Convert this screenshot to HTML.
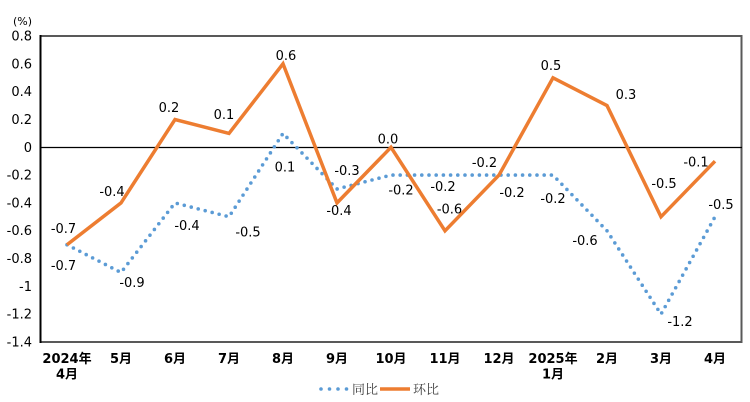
<!DOCTYPE html>
<html><head><meta charset="utf-8"><style>
html,body{margin:0;padding:0;background:#fff;}
svg{display:block;}
.t{font-family:"DejaVu Sans","Liberation Sans",sans-serif;font-size:13px;fill:#000;}
.x{font-family:"DejaVu Sans","Noto Sans CJK SC",sans-serif;font-size:13px;font-weight:bold;fill:#000;}
.lg{font-family:"Noto Serif CJK SC","Noto Sans CJK SC",serif;font-size:13px;fill:#404040;}
</style></head><body>
<svg width="750" height="402" viewBox="0 0 750 402" xmlns="http://www.w3.org/2000/svg">
<text x="13" y="25" style="font-family:'DejaVu Sans',sans-serif;font-size:11px;fill:#000;">(%)</text>
<!-- y tick labels -->
<g class="t" text-anchor="end">
<text x="32" y="40.5">0.8</text>
<text x="32" y="68.3">0.6</text>
<text x="32" y="96.1">0.4</text>
<text x="32" y="124">0.2</text>
<text x="32" y="151.8">0</text>
<text x="32" y="179.6">-0.2</text>
<text x="32" y="207.4">-0.4</text>
<text x="32" y="235.2">-0.6</text>
<text x="32" y="263">-0.8</text>
<text x="32" y="290.9">-1</text>
<text x="32" y="318.7">-1.2</text>
<text x="32" y="346.5">-1.4</text>
</g>
<!-- plot border -->
<rect x="40.5" y="36" width="701" height="306" fill="none" stroke="#595959" stroke-width="2"/>
<line x1="40.5" y1="35" x2="40.5" y2="343" stroke="#000" stroke-width="2"/>
<line x1="40" y1="147.5" x2="742" y2="147.5" stroke="#000" stroke-width="1.2"/>
<!-- 同比 -->
<polyline fill="none" stroke="#5B9BD5" stroke-width="3.6" stroke-linecap="round" stroke-dasharray="0 7.2"
points="67,244.7 121,272.5 175,202.9 229,216.8 283,133.4 337,189 391,175.1 445,175.1 499,175.1 553,175.1 607,230.8 661,314.2 715,216.8"/>
<!-- 环比 -->
<polyline fill="none" stroke="#ED7D31" stroke-width="3.5" stroke-linejoin="miter"
points="67,244.7 121,202.9 175,119.5 229,133.4 283,63.8 337,202.9 391,147.3 445,230.8 499,175.1 553,77.8 607,105.6 661,216.8 715,161.2"/>
<!-- data labels 环比 -->
<g class="t" text-anchor="middle">
<text x="63.5" y="233.2">-0.7</text>
<text x="112" y="196.2">-0.4</text>
<text x="169" y="112">0.2</text>
<text x="224" y="119.2">0.1</text>
<text x="286" y="60.2">0.6</text>
<text x="339" y="215.2">-0.4</text>
<text x="388" y="143.5">0.0</text>
<text x="449.5" y="213.5">-0.6</text>
<text x="484.5" y="167.2">-0.2</text>
<text x="551" y="70.2">0.5</text>
<text x="626" y="98.8">0.3</text>
<text x="664" y="187.8">-0.5</text>
<text x="696" y="166.5">-0.1</text>
</g>
<!-- data labels 同比 -->
<g class="t" text-anchor="middle">
<text x="63.5" y="270.2">-0.7</text>
<text x="132" y="286.8">-0.9</text>
<text x="187" y="230.2">-0.4</text>
<text x="248" y="236.5">-0.5</text>
<text x="285" y="171.5">0.1</text>
<text x="347" y="175.2">-0.3</text>
<text x="401" y="194.5">-0.2</text>
<text x="443" y="191.2">-0.2</text>
<text x="512" y="197.2">-0.2</text>
<text x="553" y="203.2">-0.2</text>
<text x="585" y="245.2">-0.6</text>
<text x="680" y="326.2">-1.2</text>
<text x="721" y="209.2">-0.5</text>
</g>
<!-- x labels -->
<g class="x" text-anchor="middle">
<text x="67" y="363">2024年</text>
<text x="67" y="378.5">4月</text>
<text x="121" y="363">5月</text>
<text x="175" y="363">6月</text>
<text x="229" y="363">7月</text>
<text x="283" y="363">8月</text>
<text x="337" y="363">9月</text>
<text x="391" y="363">10月</text>
<text x="445" y="363">11月</text>
<text x="499" y="363">12月</text>
<text x="553" y="363">2025年</text>
<text x="553" y="378.5">1月</text>
<text x="607" y="363">2月</text>
<text x="661" y="363">3月</text>
<text x="715" y="363">4月</text>
</g>
<!-- legend -->
<line x1="321" y1="389" x2="348" y2="389" stroke="#5B9BD5" stroke-width="3.6" stroke-linecap="round" stroke-dasharray="0 8.5"/>
<text class="lg" x="352" y="394">同比</text>
<line x1="380" y1="389" x2="410" y2="389" stroke="#ED7D31" stroke-width="3.5"/>
<text class="lg" x="413" y="394">环比</text>
</svg>
</body></html>
